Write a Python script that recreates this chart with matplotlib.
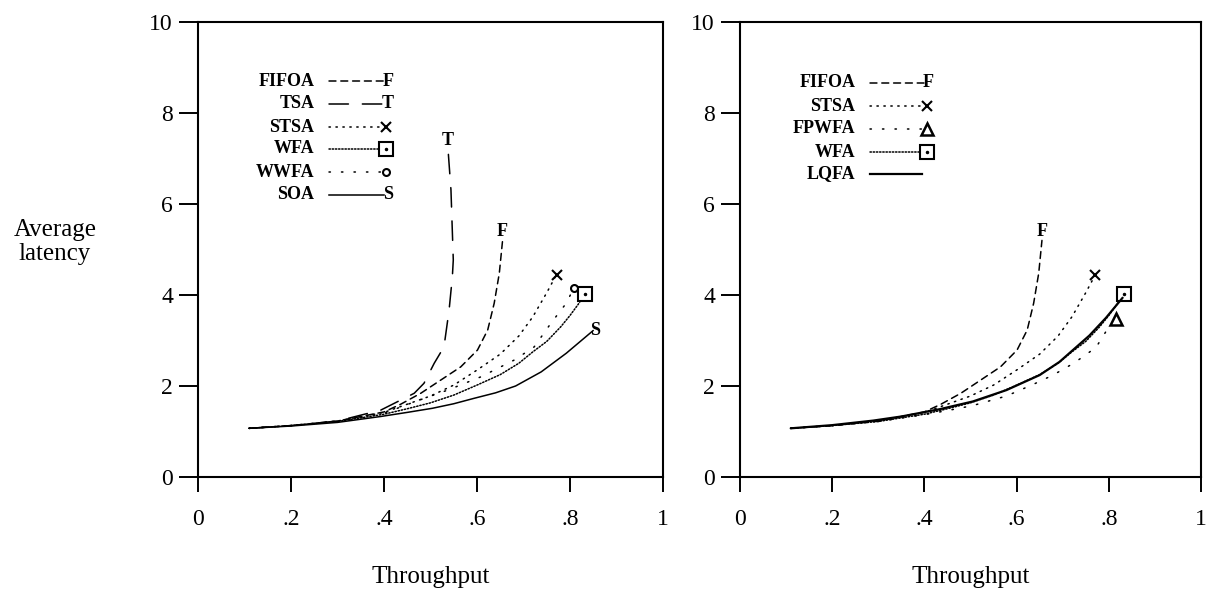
import matplotlib
matplotlib.use("Agg")
import matplotlib.pyplot as plt

plt.rcParams['font.family'] = ['Liberation Serif', 'DejaVu Serif']
plt.rcParams['lines.scale_dashes'] = False

# ---- data (throughput, average latency) ----
fifoa_x = [0.11, 0.2, 0.3, 0.4, 0.436, 0.479, 0.522, 0.565, 0.601, 0.623, 0.637, 0.648, 0.655]
fifoa_y = [1.07, 1.13, 1.23, 1.43, 1.60, 1.84, 2.13, 2.42, 2.79, 3.23, 3.82, 4.48, 5.20]

tsa_x = [0.11, 0.2, 0.3, 0.393, 0.465, 0.486, 0.508, 0.529, 0.54, 0.547, 0.549, 0.544, 0.537]
tsa_y = [1.07, 1.13, 1.23, 1.47, 1.84, 2.06, 2.5, 2.86, 3.67, 4.4, 4.77, 6.31, 7.3]

stsa_x = [0.11, 0.2, 0.3, 0.4, 0.45, 0.5, 0.55, 0.6, 0.65, 0.69, 0.72, 0.75, 0.771]
stsa_y = [1.07, 1.13, 1.23, 1.42, 1.6, 1.78, 2.02, 2.35, 2.7, 3.1, 3.52, 4.05, 4.45]

wfa_x = [0.11, 0.2, 0.3, 0.4, 0.45, 0.5, 0.55, 0.6, 0.65, 0.69, 0.72, 0.75, 0.78, 0.8, 0.818, 0.832]
wfa_y = [1.07, 1.13, 1.22, 1.38, 1.5, 1.63, 1.8, 2.02, 2.25, 2.5, 2.75, 2.98, 3.3, 3.55, 3.8, 4.02]

wwfa_x = [0.11, 0.2, 0.3, 0.4, 0.465, 0.537, 0.608, 0.68, 0.723, 0.759, 0.792, 0.808]
wwfa_y = [1.07, 1.13, 1.22, 1.4, 1.65, 1.91, 2.2, 2.57, 2.86, 3.38, 3.82, 4.15]

soa_x = [0.11, 0.2, 0.3, 0.393, 0.45, 0.504, 0.55, 0.594, 0.64, 0.683, 0.738, 0.792, 0.85]
soa_y = [1.07, 1.12, 1.2, 1.33, 1.42, 1.51, 1.61, 1.73, 1.85, 2.0, 2.31, 2.72, 3.22]

fpwfa_x = [0.11, 0.2, 0.3, 0.4, 0.45, 0.505, 0.578, 0.635, 0.679, 0.722, 0.751, 0.773, 0.794, 0.816]
fpwfa_y = [1.07, 1.13, 1.22, 1.37, 1.46, 1.57, 1.78, 2.03, 2.24, 2.49, 2.69, 2.86, 3.2, 3.48]

lqfa_x = [0.11, 0.2, 0.289, 0.35, 0.433, 0.505, 0.578, 0.65, 0.693, 0.758, 0.794, 0.83]
lqfa_y = [1.07, 1.14, 1.24, 1.33, 1.49, 1.66, 1.91, 2.24, 2.53, 3.11, 3.5, 3.94]

x_ticks = [0, 0.2, 0.4, 0.6, 0.8, 1.0]
x_tick_labels = ['0', '.2', '.4', '.6', '.8', '1']
y_ticks = [0, 2, 4, 6, 8, 10]

# line styles
STY = {
    'FIFOA': dict(ls=(0, (5, 3.5)), end='F'),
    'TSA':   dict(ls=(0, (14, 10)), end='T'),
    'STSA':  dict(ls=(0, (1, 4)), end='x'),
    'WFA':   dict(ls=(0, (1, 1.3)), end='sq'),
    'WWFA':  dict(ls=(0, (1, 8)), end='o'),
    'SOA':   dict(ls='-', end='S'),
    'FPWFA': dict(ls=(0, (1, 8)), end='tri'),
    'LQFA':  dict(ls='-', end=None),
}


def draw_end(ax, x, y, kind, in_key=False):
    # marker at the end of a curve (or of a key line when in_key)
    tr = ax.transAxes if in_key else ax.transData
    coords = 'axes fraction' if in_key else 'data'
    if kind in ('F', 'T', 'S'):
        if in_key or kind == 'S':
            off, va = (1, 0), 'center'
        elif kind == 'F':
            off, va = (0, 0), 'bottom'
        else:
            off, va = (0, -3), 'bottom'
        ax.annotate(kind, (x, y), xycoords=coords, xytext=off, textcoords='offset points',
                    ha='center', va=va, fontsize=13, fontweight='bold')
    elif kind == 'x':
        ax.plot([x], [y], marker='x', ms=7, mew=1.5, color='black', transform=tr)
    elif kind == 'sq':
        ax.plot([x], [y], marker='s', ms=10, mew=1.5, mfc='white', color='black', transform=tr)
        ax.plot([x], [y], marker='.', ms=3, color='black', transform=tr)
    elif kind == 'o':
        ax.plot([x], [y], marker='o', ms=5, mew=1.5, mfc='white', color='black', transform=tr)
    elif kind == 'tri':
        ax.plot([x], [y], marker='^', ms=8, mew=1.8, mfc='white', color='black', transform=tr)


def draw_panel(ax, series, legend_rows):
    ax.set_xlim(0, 1)
    ax.set_ylim(0, 10)
    for name, xs, ys in series:
        s = STY[name]
        lw = 1.6 if name == 'LQFA' else 1.1
        ax.plot(xs, ys, color='black', lw=lw, linestyle=s['ls'],
                dash_capstyle='round', solid_capstyle='round', clip_on=False)
        if s['end']:
            draw_end(ax, xs[-1], ys[-1], s['end'])

    # hand drawn key, as in the reference
    for name, yrow in zip([n for n, _, _ in series], legend_rows):
        s = STY[name]
        ax.text(0.25, yrow, name, transform=ax.transAxes, ha='right', va='center',
                fontsize=13, fontweight='bold')
        lw = 1.6 if name == 'LQFA' else 1.1
        x1 = 0.40 if s['end'] else 0.395
        ax.plot([0.282, x1], [yrow, yrow], transform=ax.transAxes, color='black',
                lw=lw, linestyle=s['ls'], dash_capstyle='round')
        if s['end']:
            draw_end(ax, 0.405, yrow, s['end'], in_key=True)

    ax.set_xticks(x_ticks)
    ax.set_xticklabels(x_tick_labels)
    ax.set_yticks(y_ticks)
    ax.tick_params(axis='y', direction='out', length=14, width=1.4, pad=4, labelsize=17)
    ax.tick_params(axis='x', direction='out', length=11, width=1.4, pad=12, labelsize=17)
    for sp in ax.spines.values():
        sp.set_linewidth(1.5)
    ax.set_xlabel('Throughput', fontsize=18, labelpad=26)


fig = plt.figure(figsize=(12.1, 5.9), dpi=100)
ax1 = fig.add_axes([198 / 1210, 1 - 477 / 590, 465 / 1210, 455 / 590])
ax2 = fig.add_axes([740 / 1210, 1 - 477 / 590, 461 / 1210, 455 / 590])

draw_panel(ax1, [('FIFOA', fifoa_x, fifoa_y), ('TSA', tsa_x, tsa_y),
                 ('STSA', stsa_x, stsa_y), ('WFA', wfa_x, wfa_y),
                 ('WWFA', wwfa_x, wwfa_y), ('SOA', soa_x, soa_y)],
           [0.870, 0.820, 0.769, 0.721, 0.670, 0.620])

draw_panel(ax2, [('FIFOA', fifoa_x, fifoa_y), ('STSA', stsa_x, stsa_y),
                 ('FPWFA', fpwfa_x, fpwfa_y), ('WFA', wfa_x, wfa_y),
                 ('LQFA', lqfa_x, lqfa_y)],
           [0.866, 0.815, 0.765, 0.714, 0.666])

fig.text(55 / 1210, 1 - 242 / 590, 'Average\nlatency', ha='center', va='center',
         fontsize=18, linespacing=1.15)

plt.savefig('out.png', dpi=100)
